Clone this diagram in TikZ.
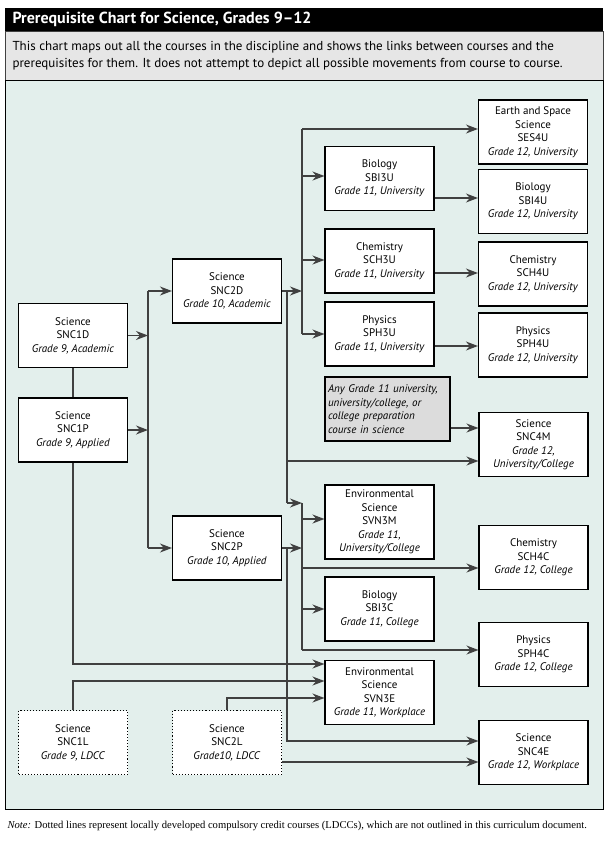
\documentclass[tikz,border=0pt]{standalone}
\usepackage{fontspec}
\setmainfont{PT Sans}
\newfontfamily\notefont{Liberation Serif}
\usetikzlibrary{arrows.meta}

\definecolor{chartbg}{HTML}{E3EFEC}
\definecolor{bandgray}{HTML}{E6E6E6}
\definecolor{anygray}{HTML}{DCDCDC}
\definecolor{linegray}{HTML}{404040}

\tikzset{
	course/.style = {draw, fill=white, line width=1.1pt, minimum width=109pt, minimum height=64pt,
		align=center, font=\fontsize{11}{13.5}\selectfont, inner sep=1pt},
	ldcc/.style = {course, dotted, line width=1.4pt},
	link/.style = {draw=linegray, line width=1.3pt},
	arr/.style = {link, -{Stealth[length=12pt,width=9pt]}}
}

\begin{document}
\begin{tikzpicture}[x=1pt,y=-1pt]

	\useasboundingbox (0,0) rectangle (608,847);
	\fill[white] (0,0) rectangle (608,847);

	% header
	\fill[black] (5,8) rectangle (603,31);
	\node[anchor=west, text=white, font=\fontsize{16}{18}\selectfont\bfseries] (title) at (9,19.5)
		{Prerequisite Chart for Science, Grades 9--12};
	\filldraw[fill=bandgray, draw=linegray, line width=1pt] (5,31) rectangle (603,80);
	\node[anchor=west, align=left, font=\fontsize{13}{17}\selectfont] (intro) at (9,55.5)
		{This chart maps out all the courses in the discipline and shows the links between courses and the\\
		 prerequisites for them. It does not attempt to depict all possible movements from course to course.};
	\filldraw[fill=chartbg, draw=black, line width=1pt] (5,80) rectangle (603,809);

	% grade 9 and 10
	\node[course] (snc1d) at (73,335.5) {Science\\SNC1D\\\textit{Grade 9, Academic}};
	\node[course] (snc1p) at (73,430) {Science\\SNC1P\\\textit{Grade 9, Applied}};
	\node[course] (snc2d) at (227,291) {Science\\SNC2D\\\textit{Grade 10, Academic}};
	\node[course] (snc2p) at (227,548) {Science\\SNC2P\\\textit{Grade 10, Applied}};
	\node[ldcc] (snc1l) at (73,742.5) {Science\\SNC1L\\\textit{Grade 9, LDCC}};
	\node[ldcc] (snc2l) at (227,742.5) {Science\\SNC2L\\\textit{Grade10, LDCC}};

	% grade 11
	\node[course] (sbi3u) at (379.5,178.5) {Biology\\SBI3U\\\textit{Grade 11, University}};
	\node[course] (sch3u) at (379.5,261) {Chemistry\\SCH3U\\\textit{Grade 11, University}};
	\node[course] (sph3u) at (379.5,334) {Physics\\SPH3U\\\textit{Grade 11, University}};
	\node[course, fill=anygray, minimum width=125pt, text width=119pt, align=left, font=\fontsize{11}{13.5}\selectfont\itshape] (any) at (387.5,409)
		{Any Grade 11 university,\\university/college, or\\college preparation\\course in science};
	\node[course, minimum height=74pt] (svn3m) at (379.5,522) {Environmental\\Science\\SVN3M\\\textit{Grade 11,}\\\textit{University/College}};
	\node[course] (sbi3c) at (379.5,609) {Biology\\SBI3C\\\textit{Grade 11, College}};
	\node[course] (svn3e) at (379.5,692.5) {Environmental\\Science\\SVN3E\\\textit{Grade 11, Workplace}};

	% grade 12
	\node[course] (ses4u) at (533,132) {Earth and Space\\Science\\SES4U\\\textit{Grade 12, University}};
	\node[course] (sbi4u) at (533,201.5) {Biology\\SBI4U\\\textit{Grade 12, University}};
	\node[course] (sch4u) at (533,274) {Chemistry\\SCH4U\\\textit{Grade 12, University}};
	\node[course] (sph4u) at (533,345) {Physics\\SPH4U\\\textit{Grade 12, University}};
	\node[course] (snc4m) at (533.5,444.5) {Science\\SNC4M\\\textit{Grade 12,}\\\textit{University/College}};
	\node[course] (sch4c) at (533.5,557.5) {Chemistry\\SCH4C\\\textit{Grade 12, College}};
	\node[course] (sph4c) at (533.5,654.5) {Physics\\SPH4C\\\textit{Grade 12, College}};
	\node[course] (snc4e) at (533.5,752.5) {Science\\SNC4E\\\textit{Grade 12, Workplace}};

	% buses
	\coordinate (busa) at (148,0);
	\coordinate (busb) at (302,0);
	\coordinate (busc) at (287,0);

	% grade 9 to grade 10
	\draw[link] (snc1d) -- (snc1p);
	\draw[arr] (snc1d.east) -- (snc1d.east -| busa);
	\draw[arr] (snc1p.east) -- (snc1p.east -| busa);
	\draw[link] (snc2d.west -| busa) -- (snc2p.west -| busa);
	\draw[arr] (snc2d.west -| busa) -- (snc2d.west);
	\draw[arr] (snc2p.west -| busa) -- (snc2p.west);

	% academic stream
	\draw[arr] (snc2d.east) -- (snc2d.east -| busb);
	\draw[link] (busb |- 0,129) -- (busb |- sph3u.west);
	\draw[arr] (busb |- 0,129) -- (ses4u.west |- 0,129);
	\draw[arr] (busb |- 0,176) -- (sbi3u.west |- 0,176);
	\draw[arr] (busb |- 0,260) -- (sch3u.west |- 0,260);
	\draw[arr] (busb |- sph3u.west) -- (sph3u.west);
	\draw[arr] (sbi3u.east |- 0,198) -- (sbi4u.west |- 0,198);
	\draw[arr] (sch3u.east |- 0,273) -- (sch4u.west |- 0,273);
	\draw[arr] (sph3u.east |- 0,346) -- (sph4u.west |- 0,346);
	\draw[arr] (any.east |- 0,428) -- (snc4m.west |- 0,428);
	\draw[link] (snc2d.east -| busc) -- (busc |- 0,503);
	\draw[arr] (busc |- 0,461) -- (snc4m.west |- 0,461);
	\draw[arr] (busc |- 0,503) -- (busb |- 0,503);

	% applied stream
	\draw[arr] (snc2p.east) -- (snc2p.east -| busb);
	\draw[link] (busb |- 0,503) -- (busb |- 0,650);
	\draw[arr] (busb |- 0,519) -- (svn3m.west |- 0,519);
	\draw[arr] (busb |- 0,568) -- (sch4c.west |- 0,568);
	\draw[arr] (busb |- 0,609) -- (sbi3c.west);
	\draw[arr] (busb |- 0,650) -- (sph4c.west |- 0,650);
	\draw[arr] (snc2p.east -| busc) |- (snc4e.west |- 0,741);

	% workplace and ldcc
	\draw[arr] (snc1p.south) |- (svn3e.west |- 0,664);
	\draw[arr] (snc1l.north) |- (svn3e.west |- 0,681);
	\draw[arr] (snc2l.north) |- (svn3e.west |- 0,698);
	\draw[arr] (snc2l.east |- 0,762) -- (snc4e.west |- 0,762);

	% note
	\node[anchor=west, font=\notefont\fontsize{10.6}{12}\selectfont] (note) at (4,826)
		{\textit{Note:} Dotted lines represent locally developed compulsory credit courses (LDCCs), which are not outlined in this curriculum document.};

\end{tikzpicture}
\end{document}
